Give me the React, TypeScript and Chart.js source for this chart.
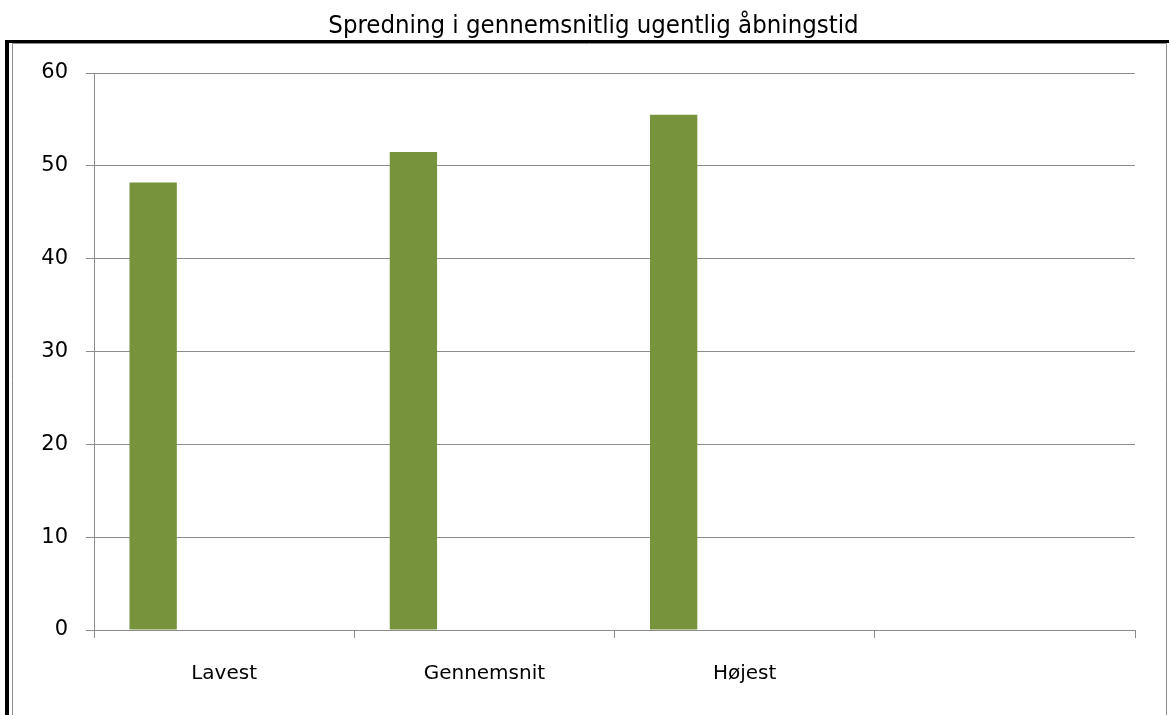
import React, { useEffect, useRef } from "react";
import { Chart, registerables } from "chart.js";

Chart.register(...registerables);

const categories = ["Lavest", "Gennemsnit", "Højest", ""];
const seriesValues = [48.2, 51.5, 55.5, null];
const emptySeries = [null, null, null, null];
const yTicks = [0, 10, 20, 30, 40, 50, 60];
const titleText = "Spredning i gennemsnitlig ugentlig åbningstid";

const FONT = "'DejaVu Sans', Verdana, sans-serif";
const TITLE_FONT = "'DejaVu Sans Condensed', 'DejaVu Sans', sans-serif";

const framePlugin = {
  id: "frame",
  beforeDraw(chart: any) {
    const ctx = chart.ctx;
    ctx.save();
    ctx.fillStyle = "#ffffff";
    ctx.fillRect(0, 0, chart.width, chart.height);
    ctx.restore();
  },
  afterDraw(chart: any) {
    const ctx = chart.ctx;
    ctx.save();
    ctx.fillStyle = "#000000";
    ctx.font = `25.5px ${TITLE_FONT}`;
    ctx.textAlign = "center";
    ctx.textBaseline = "alphabetic";
    ctx.fillText(titleText, 593.5, 33);
    ctx.strokeStyle = "#8c8c8c";
    ctx.lineWidth = 1;
    ctx.beginPath();
    ctx.moveTo(12.5, 715);
    ctx.lineTo(12.5, 43.5);
    ctx.lineTo(1166.5, 43.5);
    ctx.lineTo(1166.5, 715);
    ctx.stroke();
    ctx.fillRect(5, 40, 1164, 3);
    ctx.fillRect(5, 40, 4, 675);
    ctx.restore();
  },
};

export default function App() {
  const ref = useRef<HTMLCanvasElement | null>(null);
  useEffect(() => {
    if (!ref.current) return;
    const chart = new Chart(ref.current, {
      type: "bar",
      data: {
        labels: categories,
        datasets: [
          { label: "A", data: seriesValues as any, backgroundColor: "#77933C" },
          { label: "B", data: emptySeries as any, backgroundColor: "#77933C" },
          { label: "C", data: emptySeries as any, backgroundColor: "#77933C" },
          { label: "D", data: emptySeries as any, backgroundColor: "#77933C" },
        ],
      },
      options: {
        animation: false,
        responsive: false,
        maintainAspectRatio: false,
        layout: { padding: { left: 0, right: 34, top: 73, bottom: 0 } },
        datasets: {
          bar: { categoryPercentage: 4 / 5.5, barPercentage: 1 },
        } as any,
        plugins: {
          legend: { display: false },
          tooltip: { enabled: false },
          title: { display: false },
        },
        scales: {
          x: {
            offset: true,
            grid: {
              offset: true,
              drawOnChartArea: false,
              drawTicks: true,
              tickLength: 8,
              color: "#8c8c8c",
            },
            border: { color: "#8c8c8c", width: 1 },
            ticks: {
              color: "#000000",
              font: { family: FONT, size: 20, lineHeight: 1.2 },
              padding: 24,
              maxRotation: 0,
              autoSkip: false,
            },
            afterFit(scale: any) {
              scale.height = 715 - 630;
            },
          },
          y: {
            min: 0,
            max: 60,
            afterBuildTicks(scale: any) {
              scale.ticks = yTicks.map((v) => ({ value: v }));
            },
            grid: {
              color: "#8c8c8c",
              drawTicks: true,
              tickLength: 8,
            },
            border: { color: "#8c8c8c", width: 1 },
            ticks: {
              color: "#000000",
              font: { family: FONT, size: 21 },
              padding: 18,
            },
            afterFit(scale: any) {
              scale.width = 94;
            },
          },
        },
      },
      plugins: [framePlugin],
    });
    return () => chart.destroy();
  }, []);
  return (
    <div style={{ position: "fixed", left: 0, top: 0, width: 1169, height: 715 }}>
      <canvas ref={ref} width={1169} height={715} style={{ display: "block" }} />
    </div>
  );
}
